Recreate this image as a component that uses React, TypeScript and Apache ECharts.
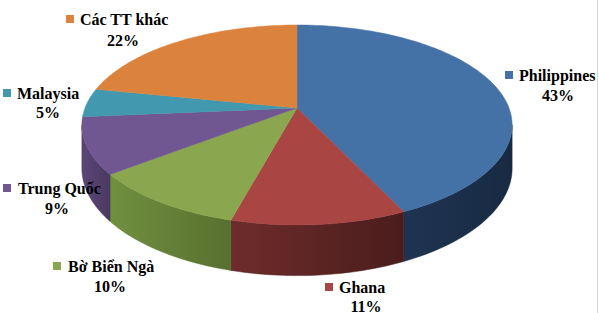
import React, { useEffect, useRef } from "react";
import * as echarts from "echarts";

const categories = ["Philippines", "Ghana", "Bờ Biển Ngà", "Trung Quốc", "Malaysia", "Các TT khác"];
const shares = [43.0, 11.2, 10.3, 9.1, 4.6, 21.8];
const percentLabels = ["43%", "11%", "10%", "9%", "5%", "22%"];

const topColors = ["#4471A6", "#A94543", "#8AA64F", "#715792", "#4298AF", "#DB833D"];
const sideColors = [
  ["#1F3452", "#182A42"],
  ["#6E2C2B", "#4A1D1C"],
  ["#71903F", "#58702F"],
  ["#5B4677", "#4A3962"],
  ["#2F7386", "#286273"],
  ["#A8632C", "#8C5224"],
];

// label layout (square x, name x, name y, percent centre x, percent y)
const labelLayout = [
  { sx: 505, nx: 519, ny: 75, px: 558, py: 95 },
  { sx: 325, nx: 339, ny: 287, px: 366, py: 306 },
  { sx: 53, nx: 68, ny: 266, px: 110, py: 286 },
  { sx: 3, nx: 18, ny: 188, px: 57, py: 208 },
  { sx: 3, nx: 17, ny: 93, px: 48, py: 112 },
  { sx: 66, nx: 80, ny: 19, px: 123, py: 40 },
];

// perspective projection of a flat disc
const geo = { x0: 297, y0: 108, A: 212, B: 97.1, p: 0.17, depth: 42 };

function pt(a: number, drop = 0): number[] {
  const u = Math.sin(a);
  const w = Math.cos(a);
  const s = 1 / (1 + geo.p * w);
  return [geo.x0 + geo.A * u * s, geo.y0 - geo.B * w * s + drop * s];
}

function arc(a0: number, a1: number, drop = 0): number[][] {
  const pts: number[][] = [];
  const n = Math.max(2, Math.ceil(((a1 - a0) / Math.PI) * 120));
  for (let k = 0; k <= n; k++) pts.push(pt(a0 + ((a1 - a0) * k) / n, drop));
  return pts;
}

export default function App() {
  const ref = useRef<HTMLDivElement>(null);
  useEffect(() => {
    if (!ref.current) return;
    const chart = echarts.init(ref.current, null, { renderer: "svg" });
    const total = shares.reduce((s, v) => s + v, 0);
    const font = "bold 16px 'Liberation Serif'";
    const silA = Math.PI - Math.acos(geo.p);
    const silB = Math.PI + Math.acos(geo.p);
    const labelGraphics: any[] = [];
    categories.forEach((name, i) => {
      const L = labelLayout[i];
      labelGraphics.push({
        type: "rect",
        z: 100,
        shape: { x: L.sx, y: L.ny - 4, width: 8, height: 8 },
        style: { fill: topColors[i] },
      });
      labelGraphics.push({
        type: "text",
        z: 100,
        x: L.nx,
        y: L.ny,
        style: { text: name, font, fill: "#000", align: "left", verticalAlign: "middle" },
      });
      labelGraphics.push({
        type: "text",
        z: 100,
        x: L.px,
        y: L.py,
        style: { text: percentLabels[i], font, fill: "#000", align: "center", verticalAlign: "middle" },
      });
    });
    chart.setOption({
      animation: false,
      backgroundColor: "#ffffff",
      textStyle: { fontFamily: "Liberation Serif" },
      series: [
        {
          type: "custom",
          coordinateSystem: "none",
          z: 2,
          data: shares.map((v, i) => [v, i]),
          renderItem: (params: any, api: any) => {
            const i = params.dataIndex;
            const v = api.value(0);
            let before = 0;
            for (let k = 0; k < i; k++) before += shares[k];
            const a0 = (before / total) * Math.PI * 2;
            const a1 = ((before + v) / total) * Math.PI * 2;
            const children: any[] = [];
            const s0 = Math.max(a0, silA);
            const s1 = Math.min(a1, silB);
            if (s1 > s0) {
              const topPts = arc(s0, s1);
              const botPts = arc(s0, s1, geo.depth).reverse();
              children.push({
                type: "polygon",
                shape: { points: topPts.concat(botPts) },
                style: {
                  fill: new echarts.graphic.LinearGradient(0, 0, 1, 0, [
                    { offset: 0, color: sideColors[i][0] },
                    { offset: 1, color: sideColors[i][1] },
                  ]),
                  stroke: sideColors[i][1],
                  lineWidth: 0.5,
                },
              });
            }
            children.push({
              type: "polygon",
              shape: { points: [[geo.x0, geo.y0]].concat(arc(a0, a1)) },
              style: { fill: topColors[i], stroke: topColors[i], lineWidth: 0.5 },
            });
            return { type: "group", children };
          },
        },
      ],
      graphic: [
        ...labelGraphics,
        {
          type: "line",
          z: 100,
          shape: { x1: 597.5, y1: 0, x2: 597.5, y2: 313 },
          style: { stroke: "#d9d9d9", lineWidth: 1 },
        },
      ],
    });
    return () => chart.dispose();
  }, []);
  return (
    <div
      ref={ref}
      style={{ position: "fixed", left: 0, top: 0, width: 599, height: 313 }}
    />
  );
}
